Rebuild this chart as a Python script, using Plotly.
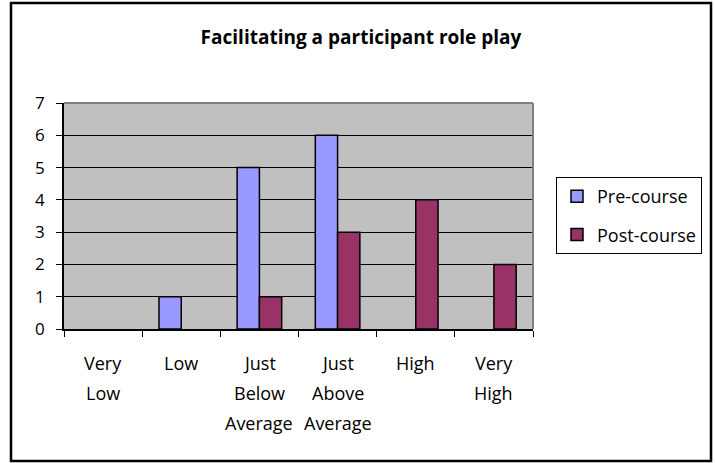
import plotly.graph_objects as go

categories = ["Very Low", "Low", "Just Below Average", "Just Above Average", "High", "Very High"]
label_lines = [["Very", "Low"], ["Low"], ["Just", "Below", "Average"],
               ["Just", "Above", "Average"], ["High"], ["Very", "High"]]
pre_course = [0, 1, 5, 6, 0, 0]
post_course = [0, 0, 1, 3, 4, 2]
y_ticks = [0, 1, 2, 3, 4, 5, 6, 7]
title_text = "Facilitating a participant role play"

FONT = "Open Sans"
W, H = 715, 463
L, R, T, B = 64, 182, 103, 134
pw, ph = W - L - R, H - T - B

def px_x(x):
    return (x - L) / pw

def px_y(y):
    return (H - B - y) / ph

def hide_zero(vals):
    # Excel does not draw zero-height bars
    return [v if v != 0 else None for v in vals]

fig = go.Figure()
fig.add_trace(go.Bar(x=categories, y=hide_zero(pre_course), name="Pre-course",
                     marker=dict(color="#9999FF",
                                 line=dict(color=["black"] * len(categories),
                                           width=[1.5] * len(categories))),
                     legendgroup="a"))
fig.add_trace(go.Bar(x=categories, y=hide_zero(post_course), name="Post-course",
                     marker=dict(color="#993366",
                                 line=dict(color=["black"] * len(categories),
                                           width=[1.5] * len(categories))),
                     legendgroup="b"))

annotations = []
for cat, lines in zip(categories, label_lines):
    for i, line in enumerate(lines):
        annotations.append(dict(x=cat, xref="x", y=0, yref="paper", text=line,
                                showarrow=False, yanchor="middle", xanchor="center",
                                yshift=-34 - 30 * i,
                                font=dict(family=FONT, size=18, color="black")))

shapes = [
    dict(type="line", xref="paper", yref="paper", x0=0, x1=1, y0=1, y1=1,
         line=dict(color="#808080", width=2), layer="above"),
    dict(type="line", xref="paper", yref="paper", x0=1, x1=1, y0=0, y1=1,
         line=dict(color="#808080", width=2), layer="above"),
    dict(type="rect", xref="paper", yref="paper",
         x0=px_x(11), x1=px_x(711), y0=px_y(461), y1=px_y(3),
         line=dict(color="black", width=2.5), fillcolor="rgba(0,0,0,0)", layer="above"),
]

fig.update_layout(
    width=W, height=H, autosize=False,
    margin=dict(l=L, r=R, t=T, b=B, pad=0),
    paper_bgcolor="white", plot_bgcolor="#C0C0C0",
    font=dict(family=FONT, size=17, color="black"),
    title=dict(text="<b>" + title_text + "</b>", x=361 / W, xanchor="center",
               y=1 - 37 / H, yanchor="middle", font=dict(family=FONT, size=19, color="black")),
    barmode="group", bargap=0.43, bargroupgap=0,
    legend=dict(x=px_x(556), y=px_y(177), xanchor="left", yanchor="top",
                bordercolor="black", borderwidth=1, bgcolor="white",
                font=dict(family=FONT, size=18, color="black"),
                traceorder="grouped", tracegroupgap=12),
    annotations=annotations,
    shapes=shapes,
)
fig.update_xaxes(type="category", showticklabels=False, ticks="outside", tickson="boundaries",
                 ticklen=6, tickcolor="black", showline=True, linecolor="black", linewidth=1.5,
                 showgrid=False, zeroline=False)
fig.update_yaxes(range=[0, 7], tickvals=y_ticks, ticks="outside", ticklen=6, tickcolor="black",
                 showline=True, linecolor="black", linewidth=1.5, showgrid=True,
                 gridcolor="black", gridwidth=1, zeroline=False,
                 tickfont=dict(family=FONT, size=17, color="black"), ticklabelstandoff=8)

fig.write_html("out.html", config={"displayModeBar": False},
               post_script="document.body.style.margin='0';document.body.style.overflow='hidden';")
